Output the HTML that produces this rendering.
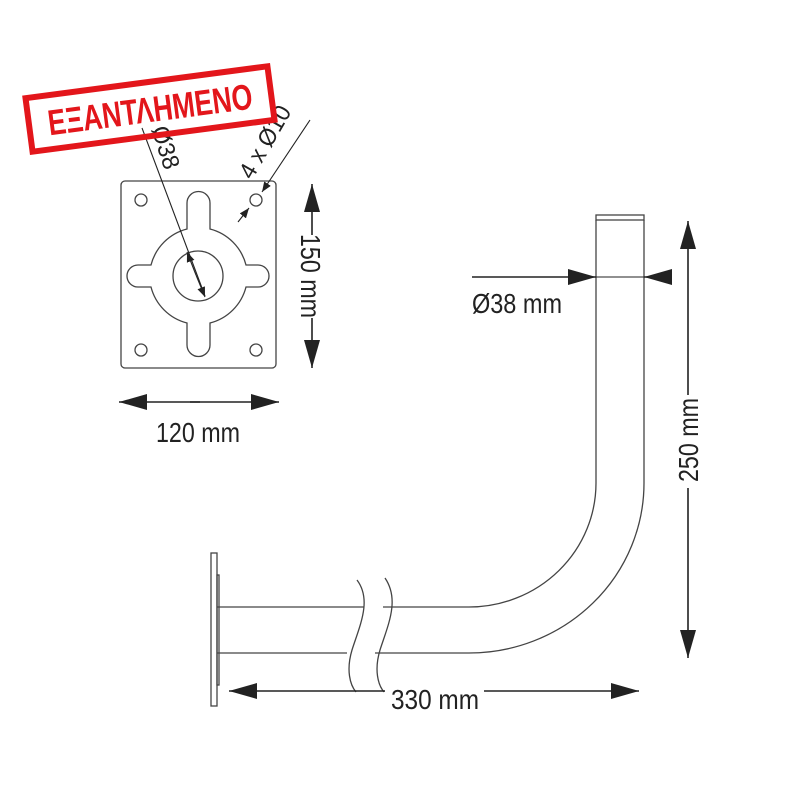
<!DOCTYPE html>
<html><head><meta charset="utf-8"><style>html,body{margin:0;padding:0;background:#fff}svg{display:block}</style></head>
<body>
<svg width="800" height="800" viewBox="0 0 800 800" xmlns="http://www.w3.org/2000/svg" font-family="Liberation Sans, sans-serif">
<defs>
<marker id="a" viewBox="0 0 28 16" refX="28" refY="8" markerWidth="28" markerHeight="16" markerUnits="userSpaceOnUse" orient="auto"><path d="M0,0 L28,8 L0,16z" fill="#222"/></marker>
<marker id="s" viewBox="0 0 10 8" refX="10" refY="4" markerWidth="10" markerHeight="8" markerUnits="userSpaceOnUse" orient="auto"><path d="M0,0 L10,4 L0,8z" fill="#222"/></marker>
</defs>
<g fill="none" stroke="#444" stroke-width="1.3">
<rect x="121" y="181" width="155" height="187" rx="4"/>
<circle cx="141" cy="200" r="6"/><circle cx="256" cy="200" r="6"/>
<circle cx="141" cy="350" r="6"/><circle cx="256" cy="350" r="6"/>
<path d="M187,229 L187,203 A11.5,11.5 0 0 1 210,203 L210,229 A50,50 0 0 1 246,265 L258,265 A11,11 0 0 1 258,287 L246,287 A50,50 0 0 1 210,323 L210,345 A11.5,11.5 0 0 1 187,345 L187,323 A50,50 0 0 1 151,287 L138,287 A11,11 0 0 1 138,265 L151,265 A50,50 0 0 1 187,229 Z"/>
<circle cx="198" cy="276" r="25"/>
<rect x="596" y="215" width="48" height="5"/>
<path d="M596,220 L596,483 A127,124 0 0 1 469,607 L383,607"/>
<path d="M644,220 L644,483 A175,170 0 0 1 469,653 L375,653"/>
<path d="M217,607 L364,607 M217,653 L347,653"/>
<path d="M357,580 C372,600 360,625 352,650 C346,670 350,685 356,692"/>
<path d="M385,578 C400,600 388,625 380,650 C374,670 378,685 384,692"/>
<rect x="211" y="553" width="6" height="153"/>
<rect x="217" y="575" width="2" height="110"/>
</g>
<g stroke="#222" stroke-width="1.6" fill="none">
<line x1="312" y1="235" x2="312" y2="184" marker-end="url(#a)"/>
<line x1="312" y1="318" x2="312" y2="368" marker-end="url(#a)"/>
<line x1="200" y1="402" x2="119" y2="402" marker-end="url(#a)"/>
<line x1="190" y1="402" x2="279" y2="402" marker-end="url(#a)"/>
<line x1="688" y1="395" x2="688" y2="221" marker-end="url(#a)"/>
<line x1="688" y1="488" x2="688" y2="658" marker-end="url(#a)"/>
<line x1="385" y1="691" x2="229" y2="691" marker-end="url(#a)"/>
<line x1="484" y1="691" x2="639" y2="691" marker-end="url(#a)"/>
<line x1="472" y1="277" x2="596" y2="277" marker-end="url(#a)"/>
<line x1="596" y1="277" x2="644" y2="277" stroke-width="1"/>
<line x1="672" y1="277" x2="644" y2="277" marker-end="url(#a)"/>
<line x1="142" y1="128" x2="205" y2="296" stroke-width="1.1"/>
<line x1="196" y1="275" x2="187" y2="252" marker-end="url(#s)" stroke-width="1.1"/>
<line x1="196" y1="275" x2="205" y2="297" marker-end="url(#s)" stroke-width="1.1"/>
<line x1="310" y1="120" x2="262" y2="192" marker-end="url(#s)" stroke-width="1.1"/>
<line x1="238" y1="222" x2="249" y2="208" marker-end="url(#s)" stroke-width="1.1"/>
</g>
<g fill="#222" font-size="28">
<text x="198" y="442" text-anchor="middle" textLength="84" lengthAdjust="spacingAndGlyphs">120 mm</text>
<text transform="translate(301,276) rotate(90)" text-anchor="middle" textLength="84" lengthAdjust="spacingAndGlyphs">150 mm</text>
<text transform="translate(698,440) rotate(-90)" text-anchor="middle" textLength="84" lengthAdjust="spacingAndGlyphs">250 mm</text>
<text x="435" y="709" text-anchor="middle" textLength="88" lengthAdjust="spacingAndGlyphs">330 mm</text>
<text x="472" y="313" textLength="90" lengthAdjust="spacingAndGlyphs">Ø38 mm</text>
<text transform="translate(158,150) rotate(72)" text-anchor="middle" font-size="24" textLength="44" lengthAdjust="spacingAndGlyphs">Ø38</text>
<text transform="translate(272,146) rotate(-60)" text-anchor="middle" font-size="24" textLength="80" lengthAdjust="spacingAndGlyphs">4 x Ø10</text>
</g>
<g transform="translate(150,109) rotate(-7.5)">
<rect x="-122" y="-27" width="244" height="54" fill="none" stroke="#e3161b" stroke-width="6"/>
<text x="0" y="13" text-anchor="middle" fill="#e3161b" font-weight="bold" font-size="36" textLength="206" lengthAdjust="spacingAndGlyphs">ΕΞΑΝΤΛΗΜΕΝΟ</text>
</g>
</svg>
</body></html>
